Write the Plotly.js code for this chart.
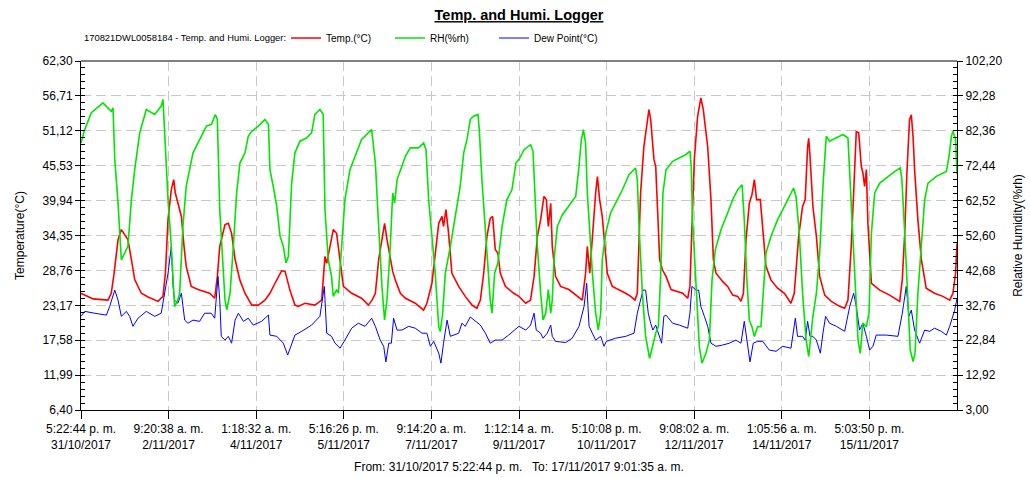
<!DOCTYPE html>
<html>
<head>
<meta charset="utf-8">
<script src="https://cdn.plot.ly/plotly-3.0.1.min.js"></script>
<style>
html,body{margin:0;padding:0;background:#fff;}
#chart{width:1030px;height:478px;}
</style>
</head>
<body>
<div id="chart"></div>
<script>
// ---- Data (hours elapsed since 31/10/2017 5:22:44 p. m.) ----
const tempHours = [0,3.2,5.5,12.3,13.8,15.1,16.9,18.4,19.9,21.4,23.0,24.5,27.5,30.6,35.1,37.4,38.5,39.7,41.2,42.3,43.0,44.2,45.8,47.0,48.0,50.3,53.4,58.7,61.0,62.2,63.3,
65.7,67.2,68.7,70.3,72.5,74.8,77.9,80.9,83.9,86.2,88.5,91.5,93.1,95.3,97.6,99.1,102.2,106.7,109.8,111.3,112.1,113.6,115.1,116.6,118.2,119.7,123.5,128.0,131.1,
132.8,134.3,135.8,137.3,138.5,139.6,141.1,142.2,143.4,145.7,148.0,152.5,156.3,157.8,160.1,161.6,163.2,164.7,165.4,166.5,167.7,169.2,172.3,175.3,178.4,180.6,182.2,183.7,185.2,186.7,187.8,189.0,190.2,191.3,193.6,197.4,
199.8,202.9,205.1,206.7,208.2,209.7,211.2,212.3,213.2,214.3,215.0,216.5,218.8,222.6,226.4,228.7,230.2,231.0,232.1,233.3,234.8,235.6,236.6,237.8,239.1,240.1,242.4,245.4,248.5,250.8,252.7,253.8,254.6,255.3,256.8,258.4,259.1,259.9,260.6,261.4,262.2,262.9,264.0,265.2,
266.9,269.2,271.4,274.5,276.8,277.8,278.7,279.8,281.3,282.8,283.9,285.9,287.4,288.5,289.7,292.7,295.0,297.3,299.6,301.1,302.2,303.4,304.9,306.1,307.2,308.2,309.9,311.3,312.5,314.8,317.8,320.9,323.9,325.4,326.5,327.4,329.2,330.4,331.5,332.0,332.6,333.3,
333.9,335.5,337.0,339.3,342.3,346.1,348.4,349.9,351.4,352.5,353.7,354.8,356.0,356.7,357.5,358.3,359.0,360.6,364.4,368.9,373.5,374.7,375.8,376.8,378.0,378.8,379.6,380.3,381.8,383.4,385.6,389.4,393.2,396.3,397.8,399.0,399.65];
const tempValues = [25.1,24.6,24.2,24.0,25.1,28.3,33.7,35.3,34.5,33.7,30.5,27.3,25.1,24.5,23.8,24.6,28.3,36.9,41.7,43.3,41.2,39.5,37.4,32.6,29.4,26.2,25.7,25.1,24.3,27.8,32.6,
36.1,36.3,34.7,30.5,27.2,25.1,23.2,23.2,24.0,25.1,26.7,28.7,28.6,25.6,23.2,23.0,23.5,23.2,24.0,31.0,29.9,32.6,35.3,34.7,30.5,26.2,25.1,24.3,23.2,
24.0,25.1,30.5,33.7,36.3,33.7,30.5,28.6,27.2,25.1,24.3,23.5,22.4,23.5,26.7,31.5,36.3,37.4,35.8,38.5,34.7,28.3,26.2,24.6,23.2,22.7,24.0,28.3,34.2,37.1,37.4,32.1,31.5,28.3,26.2,25.1,
24.6,23.5,24.0,27.8,34.2,36.9,40.6,40.1,35.8,39.5,32.6,27.8,26.2,25.7,24.6,24.0,28.3,32.6,28.3,34.7,41.2,43.8,40.1,37.4,31.5,28.3,26.2,25.7,25.1,24.6,24.0,25.1,32.6,41.2,48.6,53.4,54.5,52.9,50.2,46.5,45.4,39.0,30.5,28.9,
27.8,25.7,25.4,25.1,24.3,26.2,35.3,46.5,53.4,56.4,54.5,48.6,40.1,30.5,28.3,27.0,26.2,24.8,24.6,23.8,25.1,33.7,39.5,40.9,43.3,40.1,40.1,34.7,29.4,27.2,25.9,25.1,23.5,25.1,29.4,34.2,39.0,40.1,48.6,49.9,47.0,41.2,
39.0,34.2,27.8,24.8,23.8,23.0,22.7,24.0,32.6,41.2,51.0,50.8,45.4,44.4,42.2,44.9,36.3,26.7,25.6,24.8,23.8,27.3,34.7,44.4,52.9,53.7,50.2,44.9,36.9,30.5,25.9,25.1,24.6,24.0,25.1,28.3,33.1];

const rhHours = [0,1.7,4.7,10.0,13.8,14.6,15.4,16.9,18.4,19.9,21.4,23.0,24.5,26.8,29.8,33.6,36.6,37.4,38.5,39.7,41.2,42.7,44.2,45.0,46.5,48.0,51.1,54.9,57.2,59.5,61.3,62.2,63.3,64.8,
65.7,66.5,68.0,69.5,71.0,72.5,74.8,76.3,77.9,80.9,83.9,85.5,86.2,87.7,89.3,90.8,92.3,93.5,94.6,96.1,97.6,99.9,102.9,105.2,106.7,109.0,110.5,111.3,112.8,114.3,115.1,116.6,117.4,118.9,120.4,122.7,125.0,128.0,132.6,
134.3,135.8,137.3,138.5,139.6,141.1,142.2,143.1,144.2,146.4,148.0,150.2,154.0,156.3,157.4,158.6,160.1,161.6,163.2,163.9,165.0,166.2,168.5,171.5,173.0,174.6,176.1,177.6,179.1,181.1,181.7,182.9,184.5,185.7,186.7,187.5,188.7,190.2,192.1,194.3,196.6,198.4,
199.8,202.1,205.1,206.2,207.1,208.2,209.7,210.8,212.0,213.2,214.3,215.0,215.8,217.3,219.6,222.6,225.7,227.2,228.3,229.2,230.2,231.0,232.1,233.3,234.8,236.0,237.1,237.8,239.4,241.6,244.7,247.0,250.0,253.0,253.8,254.6,256.1,257.6,259.4,260.6,262.2,263.4,264.5,265.5,
266.9,269.9,273.0,276.0,277.8,278.4,279.0,280.3,281.3,282.1,283.3,285.1,286.7,287.9,289.4,292.0,295.0,297.3,299.6,301.6,302.6,303.7,304.9,306.1,307.2,308.7,310.2,311.3,312.5,314.8,317.8,320.1,323.1,325.1,326.2,327.7,329.2,330.8,332.0,333.0,
333.9,335.5,337.0,338.5,340.0,341.5,344.6,347.6,349.9,350.7,352.2,353.4,354.5,355.5,356.7,358.3,359.5,360.6,362.1,364.4,367.4,370.4,373.8,374.5,375.8,377.0,378.3,379.6,380.5,381.8,383.4,384.9,386.4,390.2,394.8,396.0,397.1,397.8,399.0,399.65];
const rhValues = [78.9,82.7,87.5,90.3,87.9,88.9,74.2,61.8,45.7,47.6,49.5,62.8,71.3,81.8,88.4,87.0,89.4,91.3,76.1,62.8,49.5,32.4,34.3,36.2,55.2,66.6,76.1,80.8,83.7,84.2,87.0,85.6,59.9,43.8,
34.3,31.5,36.2,49.5,64.7,73.2,76.1,80.8,82.2,83.7,85.6,84.2,71.3,66.6,60.9,52.4,49.5,44.8,46.6,67.5,76.1,79.4,80.3,81.8,87.0,88.4,87.0,59.9,45.7,41.0,35.3,37.2,36.2,49.5,62.8,71.3,75.1,79.9,82.7,
73.2,55.2,38.1,28.6,34.3,49.5,64.7,61.8,68.5,72.3,75.1,77.5,77.5,78.9,77.0,62.8,52.4,41.9,26.7,25.3,30.5,41.9,49.5,60.9,66.6,76.1,79.9,85.6,86.5,87.0,82.7,68.5,53.3,41.9,34.3,30.5,41.9,44.8,55.2,62.8,65.6,73.2,
74.2,77.0,78.4,76.6,62.8,49.5,36.2,28.6,30.5,37.2,30.5,34.3,45.7,55.2,58.5,60.9,63.7,72.3,79.9,82.7,78.9,64.7,53.3,41.9,30.5,25.8,30.5,45.7,53.3,59.0,62.8,65.6,69.9,71.8,68.5,55.2,36.2,23.9,17.7,21.0,24.8,26.7,41.9,64.7,
71.3,73.7,74.6,75.6,76.6,72.3,57.1,41.9,30.5,21.0,16.3,19.1,22.9,40.0,48.6,54.3,59.0,62.8,65.6,67.0,57.1,41.0,28.6,26.7,23.9,26.7,26.7,36.2,47.6,52.4,57.1,59.9,63.7,66.1,63.7,53.3,36.2,22.9,18.2,24.8,
29.6,36.2,47.6,66.6,80.8,79.4,80.3,81.3,80.3,70.4,49.5,34.3,22.9,19.1,27.7,26.7,30.5,53.3,64.7,67.5,69.0,70.4,71.8,68.5,53.3,36.2,20.1,16.8,19.1,36.2,49.5,62.8,67.5,69.4,70.8,75.1,80.8,82.2,79.9,70.0];

const dewHours = [0,1.7,6.2,11.6,13.1,15.4,16.9,18.4,20.7,22.2,23.7,26.0,29.8,33.6,36.6,37.9,39.7,41.2,42.0,42.7,44.2,45.8,47.3,48.8,51.1,54.1,56.4,59.5,61.0,62.5,63.3,64.0,
65.7,67.2,68.7,70.3,71.8,74.1,76.3,78.6,82.4,85.5,86.2,89.3,92.3,94.3,96.1,97.6,100.7,105.2,109.0,111.0,112.1,114.3,115.9,118.2,120.4,123.5,126.5,129.6,132.6,
134.3,136.5,138.1,139.1,140.4,141.6,142.6,144.2,146.4,149.5,152.5,155.6,157.8,159.4,160.9,163.2,164.2,165.4,167.0,168.5,172.3,173.8,175.3,177.6,179.9,182.2,184.5,186.7,189.0,192.1,195.1,198.1,
199.8,202.9,205.1,206.7,207.7,209.7,210.8,212.7,214.3,215.0,216.5,221.1,224.1,227.2,229.5,230.7,231.8,233.3,234.8,237.1,238.6,239.7,243.9,248.5,252.3,253.8,255.3,256.4,257.6,258.8,259.9,260.9,262.2,263.7,264.9,265.9,
266.9,269.9,273.0,276.8,277.8,278.7,280.6,281.8,282.8,284.4,285.9,287.4,289.7,292.7,295.8,298.8,301.1,302.6,304.1,305.2,306.7,308.7,311.0,314.0,317.1,320.1,323.9,325.9,326.9,329.2,330.4,331.5,332.6,
333.9,335.5,337.3,338.5,339.7,341.5,344.6,348.4,350.7,352.5,353.7,355.2,356.7,358.3,359.8,361.3,362.8,367.4,372.7,374.7,376.5,377.7,378.8,380.3,382.6,384.9,387.2,389.4,392.5,394.8,396.3,398.6,399.65];
const dewValues = [21.4,22.2,21.9,21.6,23.0,25.6,24.0,21.4,22.2,21.4,19.8,21.1,22.2,21.4,21.9,24.6,28.3,32.6,26.2,24.0,23.5,25.1,20.8,20.3,20.8,20.6,21.9,21.9,21.1,27.8,24.0,18.2,
17.6,18.2,17.1,20.8,21.9,20.6,21.1,20.0,20.6,21.6,18.4,18.2,17.1,15.2,17.1,18.4,19.0,20.0,21.4,26.2,18.7,18.2,17.1,16.3,17.6,19.5,20.3,19.8,21.1,
19.8,17.6,16.6,14.1,17.1,17.1,21.1,19.2,19.2,19.8,19.5,18.7,18.7,16.6,17.4,15.5,13.9,17.1,20.8,18.2,18.7,20.3,19.8,21.3,20.6,20.0,18.7,17.1,17.6,17.6,18.4,19.2,
19.8,19.2,20.0,21.9,19.2,18.7,17.9,18.7,20.0,18.2,17.4,17.2,17.9,19.8,23.0,26.7,19.8,18.7,17.6,18.2,16.6,17.4,17.9,18.2,18.7,21.9,24.0,25.6,25.6,21.9,20.3,19.2,20.0,18.2,17.1,21.4,
21.6,20.3,20.0,19.5,21.9,26.2,25.6,25.6,23.0,21.4,19.8,17.1,16.6,16.8,17.1,17.6,17.1,20.6,16.6,14.1,17.1,17.4,17.4,16.0,15.8,16.6,16.3,21.1,18.2,18.2,17.6,20.6,18.2,
18.2,17.6,15.5,18.7,21.4,20.3,19.8,19.0,23.0,25.1,23.0,19.2,20.3,18.2,16.0,16.6,18.4,18.4,18.2,21.9,26.2,21.4,22.4,19.2,17.1,19.2,19.0,19.5,19.0,18.4,19.8,22.4,24.3];

// ---- Axis ticks and texts ----
const xTickHours = [0, 39.965, 79.93, 119.895, 159.86, 199.825, 239.79, 279.755, 319.72, 359.685];
const xTickLabels = [
  '5:22:44 p. m.<br>31/10/2017', '9:20:38 a. m.<br>2/11/2017', '1:18:32 a. m.<br>4/11/2017',
  '5:16:26 p. m.<br>5/11/2017', '9:14:20 a. m.<br>7/11/2017', '1:12:14 a. m.<br>9/11/2017',
  '5:10:08 p. m.<br>10/11/2017', '9:08:02 a. m.<br>12/11/2017', '1:05:56 a. m.<br>14/11/2017',
  '5:03:50 p. m.<br>15/11/2017'];
const xEndHours = 399.65;
const tempTicks = [6.40, 11.99, 17.58, 23.17, 28.76, 34.35, 39.94, 45.53, 51.12, 56.71, 62.30];
const tempTickLabels = ['6,40','11,99','17,58','23,17','28,76','34,35','39,94','45,53','51,12','56,71','62,30'];
const rhTicks = [3.00, 12.92, 22.84, 32.76, 42.68, 52.60, 62.52, 72.44, 82.36, 92.28, 102.20];
const rhTickLabels = ['3,00','12,92','22,84','32,76','42,68','52,60','62,52','72,44','82,36','92,28','102,20'];
const seriesNames = ['Temp.(°C)', 'RH(%rh)', 'Dew Point(°C)'];
const loggerLabel = '170821DWL0058184 - Temp. and Humi. Logger:';
const chartTitle = 'Temp. and Humi. Logger';
const rangeText = 'From: 31/10/2017 5:22:44 p. m.\u00a0\u00a0 To: 17/11/2017 9:01:35 a. m.';

const FONT = '"Liberation Sans", Arial, sans-serif';
const GRID = '#c8c8c8';
const legendY = 1 + 23/349;

const traces = [
  {x: tempHours, y: tempValues, name: seriesNames[0], type: 'scatter', mode: 'lines',
   line: {color: '#ff0000', width: 1.6}, yaxis: 'y'},
  {x: rhHours, y: rhValues, name: seriesNames[1], type: 'scatter', mode: 'lines',
   line: {color: '#00e600', width: 1.6}, yaxis: 'y2'},
  {x: dewHours, y: dewValues, name: seriesNames[2], type: 'scatter', mode: 'lines',
   line: {color: '#0000ff', width: 1}, yaxis: 'y'}
];

const layout = {
  width: 1030, height: 478,
  margin: {l: 81, r: 73, t: 61, b: 68, pad: 0},
  paper_bgcolor: '#ffffff', plot_bgcolor: '#ffffff',
  font: {family: FONT, size: 12, color: '#000'},
  title: {text: '<b><u>' + chartTitle + '</u></b>', x: 0.5, xref: 'paper', xanchor: 'center',
          y: 1 - 15/478, yref: 'container', yanchor: 'middle', font: {family: FONT, size: 14.5, color: '#000'}},
  showlegend: true,
  legend: {orientation: 'h', x: (286 - 81)/876, xanchor: 'left', y: legendY, yanchor: 'middle',
           font: {family: FONT, size: 10, color: '#000'}, bgcolor: 'rgba(0,0,0,0)',
           entrywidth: 59, entrywidthmode: 'pixels', itemwidth: 30, traceorder: 'normal'},
  annotations: [{text: loggerLabel, xref: 'paper', yref: 'paper', x: 0.001, y: legendY,
                 xanchor: 'left', yanchor: 'middle', showarrow: false,
                 font: {family: FONT, size: 9.4, color: '#000'}}],
  xaxis: {range: [0, xEndHours], tickmode: 'array', tickvals: xTickHours, ticktext: xTickLabels,
          ticks: 'outside', ticklen: 8, tickcolor: '#000', showline: true, linecolor: '#000', linewidth: 1,
          showgrid: true, gridcolor: GRID, griddash: '10px,5px', gridwidth: 1, zeroline: false,
          tickfont: {family: FONT, size: 12}, automargin: false,
          title: {text: rangeText, standoff: 11, font: {family: FONT, size: 12}}},
  yaxis: {range: [6.40, 62.30], tickmode: 'array', tickvals: tempTicks, ticktext: tempTickLabels,
          ticks: 'outside', ticklen: 5, tickcolor: '#000', showline: true, linecolor: '#000', linewidth: 1,
          showgrid: true, gridcolor: GRID, griddash: '10px,5px', gridwidth: 1, zeroline: false,
          minor: {tickmode: 'linear', tick0: 6.40, dtick: 1.118, ticks: 'inside', ticklen: 4, tickcolor: '#000', showgrid: false},
          tickfont: {family: FONT, size: 12}, automargin: false,
          title: {text: 'Temperature(°C)', standoff: 15, font: {family: FONT, size: 12}}},
  yaxis2: {range: [3.00, 102.20], overlaying: 'y', side: 'right', tickmode: 'array', tickvals: rhTicks, ticktext: rhTickLabels,
          ticks: 'outside', ticklen: 5, tickcolor: '#000', showline: true, linecolor: '#000', linewidth: 1,
          showgrid: false, zeroline: false,
          minor: {tickmode: 'linear', tick0: 3.00, dtick: 1.984, ticks: 'inside', ticklen: 4, tickcolor: '#000', showgrid: false},
          tickfont: {family: FONT, size: 12}, automargin: false,
          title: {text: 'Relative Humidity(%rh)', standoff: 12, font: {family: FONT, size: 12}}},
  shapes: [{type: 'line', xref: 'paper', yref: 'paper', x0: 0, x1: 1, y0: 1, y1: 1,
            line: {color: '#808080', width: 2}}]
};

Plotly.newPlot('chart', traces, layout, {staticPlot: true, displayModeBar: false});
</script>
</body>
</html>
